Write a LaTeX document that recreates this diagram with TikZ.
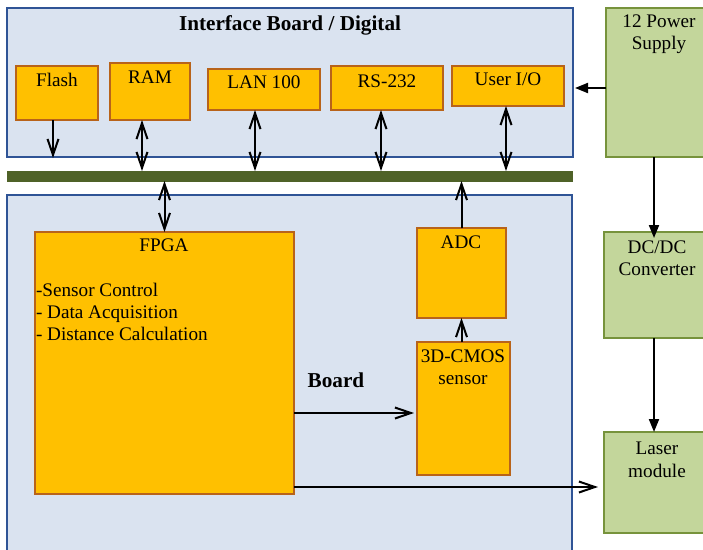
\documentclass[tikz,border=0pt]{standalone}
\usepackage{fontspec}
\setmainfont{Liberation Serif}
\usetikzlibrary{arrows.meta}
\definecolor{bfill}{HTML}{DAE3F0}
\definecolor{bdraw}{HTML}{2F5496}
\definecolor{ofill}{HTML}{FFC000}
\definecolor{odraw}{HTML}{B8631A}
\definecolor{gfill}{HTML}{C3D69B}
\definecolor{gdraw}{HTML}{77933C}
\definecolor{busc}{HTML}{4F6228}
\tikzset{
  every node/.style={inner sep=0pt, outer sep=0pt},
  boxbase/.style={rectangle, anchor=north west, line width=1.3pt},
  bluebox/.style={boxbase, fill=bfill, draw=bdraw},
  obox/.style={boxbase, fill=ofill, draw=odraw},
  gbox/.style={boxbase, fill=gfill, draw=gdraw},
  txt/.style={anchor=base, font=\fontsize{19.2}{22}\selectfont},
  btxt/.style={anchor=base, font=\fontsize{21.2}{24}\selectfont\bfseries},
  oarr/.style={line width=2pt, -{Straight Barb[length=16pt,width=11pt,line width=2pt]}},
  darr/.style={line width=2pt, {Straight Barb[length=16pt,width=11pt,line width=2pt]}-{Straight Barb[length=16pt,width=11pt,line width=2pt]}},
  farr/.style={line width=2pt, -{Triangle[length=13pt,width=10pt]}},
}
\begin{document}
\begin{tikzpicture}[x=1pt,y=-1pt]
\useasboundingbox (0,0) rectangle (703,549);
% containers
\node[bluebox, minimum width=566pt, minimum height=149pt] (ib) at (7,8) {};
\node[bluebox, minimum width=565pt, minimum height=375pt] (board) at (7,195) {};
\node[boxbase, fill=busc, draw=busc, line width=0.6pt, minimum width=565pt, minimum height=10pt] (bus) at (7,171) {};
% interface board parts
\node[obox, minimum width=82pt, minimum height=54pt] (flash) at (16,66) {};
\node[obox, minimum width=80pt, minimum height=57pt] (ram) at (110,63) {};
\node[obox, minimum width=112pt, minimum height=41pt] (lan) at (208,69) {};
\node[obox, minimum width=112pt, minimum height=44pt] (rs) at (331,66) {};
\node[obox, minimum width=112pt, minimum height=40pt] (uio) at (452,66) {};
% board parts
\node[obox, minimum width=259pt, minimum height=262pt] (fpga) at (35,232) {};
\node[obox, minimum width=89pt, minimum height=90pt] (adc) at (417,228) {};
\node[obox, minimum width=93pt, minimum height=133pt] (cmos) at (417,342) {};
% power side
\node[gbox, minimum width=112pt, minimum height=149pt] (ps) at (606,8) {};
\node[gbox, minimum width=114pt, minimum height=106pt] (dcdc) at (604,232) {};
\node[gbox, minimum width=114pt, minimum height=101pt] (laser) at (604,432) {};
% texts
\node[btxt] (tib) at (290,30) {Interface Board / Digital};
\node[btxt] (tboard) at (336,387) {Board};
\node[txt] (tflash) at (57,86) {Flash};
\node[txt] (tram) at (150,83) {RAM};
\node[txt] (tlan) at (264,88) {LAN 100};
\node[txt] (trs) at (387,87) {RS-232};
\node[txt] (tuio) at (508,85) {User I/O};
\node[txt] (tps1) at (659,27) {12 Power};
\node[txt] (tps2) at (659,49) {Supply};
\node[txt] (tfpga) at (164,251) {FPGA};
\node[txt, anchor=base west] (tf1) at (36,296) {-Sensor Control};
\node[txt, anchor=base west] (tf2) at (36,318) {- Data Acquisition};
\node[txt, anchor=base west] (tf3) at (36,340) {- Distance Calculation};
\node[txt] (tadc) at (461,248) {ADC};
\node[txt] (tcm1) at (463,362) {3D-CMOS};
\node[txt] (tcm2) at (463,384) {sensor};
\node[txt] (tdc1) at (657,253) {DC/DC};
\node[txt] (tdc2) at (657,275) {Converter};
\node[txt] (tls1) at (657,454) {Laser};
\node[txt] (tls2) at (657,477) {module};
% x positions of connectors
\coordinate (xf) at (53,0);
\coordinate (xr) at (142,0);
\coordinate (xl) at (255,0);
\coordinate (xs) at (381,0);
\coordinate (xu) at (506,0);
\coordinate (xp) at (654,0);
\coordinate (yps) at (0,88);
\coordinate (ycm) at (0,413);
\coordinate (yls) at (0,487);
% connectors
\draw[oarr] (flash.south -| xf) -- ([yshift=-1pt]ib.south -| xf);
\draw[darr] (ram.south -| xr) -- (bus.north -| xr);
\draw[darr] (lan.south -| xl) -- (bus.north -| xl);
\draw[darr] (rs.south -| xs) -- (bus.north -| xs);
\draw[darr] (uio.south -| xu) -- (bus.north -| xu);
\draw[darr] (bus.south -| fpga.north) -- (fpga.north);
\draw[oarr] (adc.north) -- (bus.south -| adc.north);
\draw[oarr] (cmos.north -| adc.south) -- (adc.south);
\draw[oarr] (fpga.east |- ycm) -- ([xshift=-3pt]cmos.west |- ycm);
\draw[oarr] (fpga.east |- yls) -- ([xshift=-6pt]laser.west |- yls);
\draw[farr] (ps.west |- yps) -- ([xshift=2pt]ib.east |- yps);
\draw[farr] (ps.south -| xp) -- ([yshift=-6pt]dcdc.north -| xp);
\draw[farr] (dcdc.south -| xp) -- (laser.north -| xp);
\end{tikzpicture}
\end{document}
